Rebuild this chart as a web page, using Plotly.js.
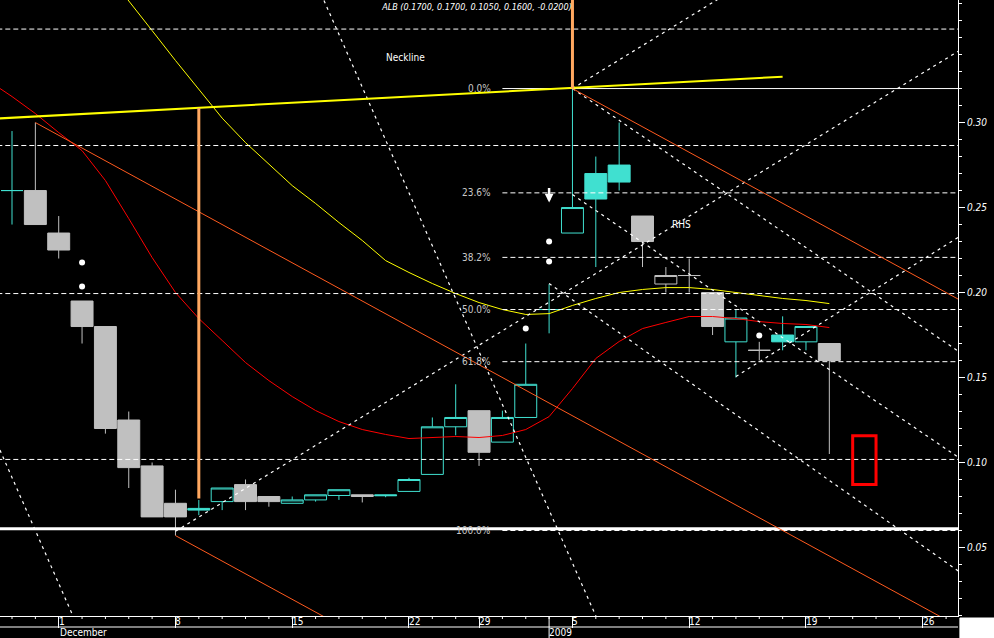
<!DOCTYPE html>
<html><head><meta charset="utf-8">
<script src="https://cdn.plot.ly/plotly-3.0.1.min.js"></script>
<style>html,body{margin:0;padding:0;background:#000;}#chart{width:994px;height:638px;}</style>
</head><body><div id="chart"></div>
<script>
// ---------- data ----------
const symbol = 'ALB';
const days = ['2008-11-26','2008-11-27','2008-11-28','2008-12-01','2008-12-02','2008-12-03','2008-12-04','2008-12-05',
  '2008-12-08','2008-12-09','2008-12-10','2008-12-11','2008-12-12','2008-12-15','2008-12-16','2008-12-17',
  '2008-12-18','2008-12-19','2008-12-22','2008-12-23','2008-12-24','2008-12-29','2008-12-30','2008-12-31',
  '2009-01-02','2009-01-05','2009-01-06','2009-01-07','2009-01-08','2009-01-09','2009-01-12','2009-01-13',
  '2009-01-14','2009-01-15','2009-01-16','2009-01-19','2009-01-20','2009-01-21','2009-01-22','2009-01-23',
  '2009-01-26','2009-01-27'];
const firstCandleDay = '2008-11-27';
const openP  = [0.26,0.26,0.235,0.195,0.18,0.125,0.098,0.076,0.073,0.077,0.087,0.080,0.076,0.078,0.0806,0.081,0.081,0.083,0.093,0.121,0.1305,0.112,0.1265,0.19,0.235,0.27,0.275,0.245,0.205,0.21,0.20,0.171,0.166,0.175,0.171,0.17];
const highP  = [0.295,0.30,0.245,0.195,0.18,0.13,0.10,0.084,0.078,0.085,0.090,0.080,0.080,0.081,0.084,0.081,0.081,0.091,0.1265,0.146,0.1305,0.1305,0.17,0.205,0.32,0.28,0.30,0.245,0.215,0.22,0.20,0.19,0.171,0.186,0.18,0.17];
const lowP   = [0.24,0.24,0.22,0.17,0.117,0.085,0.068,0.057,0.069,0.072,0.072,0.074,0.076,0.077,0.078,0.0765,0.0796,0.083,0.093,0.116,0.098,0.112,0.1265,0.176,0.235,0.215,0.26,0.215,0.20,0.20,0.175,0.15,0.16,0.166,0.166,0.105];
const closeP = [0.26,0.24,0.225,0.18,0.12,0.097,0.068,0.068,0.072,0.085,0.077,0.077,0.078,0.081,0.084,0.080,0.0805,0.090,0.121,0.1265,0.106,0.1265,0.146,0.19,0.25,0.255,0.265,0.23,0.21,0.21,0.18,0.185,0.166,0.171,0.18,0.16];
// moving averages start one session earlier (2008-11-26)
const maYellow = [0.478,0.46,0.442,0.4235,0.406,0.389,0.3718,0.3541,0.3365,0.3194,0.3026,0.2882,0.2753,0.2629,0.2524,0.2412,0.2306,0.2188,0.2118,0.2053,0.1994,0.1941,0.19,0.1871,0.1876,0.1924,0.1965,0.20,0.2018,0.2029,0.2029,0.2018,0.20,0.1982,0.1965,0.1953,0.1935];
const maRed = [0.3245,0.3153,0.3053,0.2941,0.2835,0.2659,0.2435,0.2206,0.20,0.1847,0.1718,0.1588,0.1482,0.1388,0.1306,0.1241,0.1194,0.1165,0.1141,0.1147,0.1153,0.1147,0.1159,0.1194,0.127,0.1435,0.1612,0.1712,0.1788,0.1824,0.1859,0.1859,0.1847,0.1829,0.1818,0.1812,0.1794];
const dotDays = ['2008-12-02','2008-12-02','2008-12-31','2009-01-02','2009-01-02','2009-01-15'];
const dotVals = [0.2176,0.2035,0.1788,0.230,0.2182,0.1747];
// y tick labels
const yTicks = [0.05,0.10,0.15,0.20,0.25,0.30];
// horizontal support / resistance levels
const hLevels = [0.355,0.2865,0.1994,0.1018];
const supportLevel = 0.061;
// fibonacci retracement
const fibHigh = 0.32, fibLow = 0.06, fibStartDay = '2008-12-30';
const fibRatios = [0, 0.236, 0.382, 0.5, 0.618, 1.0];
// drawing-tool lines: session offsets counted from 2008-11-27, and prices
const neckX = [-1, 33];
const neckY = [0.3021, 0.327];
const chanX0 = [1, 24, 7];
const chanY0 = [0.30, 0.32, 0.057];
const chanX1 = [41, 41, 41];
const chanY1 = [0.0, 0.1925, -0.198];
const fanX0 = [13.36, -1, 7, 24, 24, 24, 23, 31];
const fanY0 = [0.3718, 0.1224, 0.0595, 0.32, 0.32, 0.2576, 0.2053, 0.1506];
const fanX1 = [25.05, 3, 41, 31, 41, 41, 41, 41];
const fanY1 = [0.0082, -0.0024, 0.346, 0.379, 0.161, 0.0986, 0.0316, 0.2366];
const vertX = [8, 24];
const vertLo = [0.0788, 0.32];
const vertHi = [0.3086, 0.40];
const boxX = [36, 37];
const boxVal = [0.087, 0.1157];
const noteText = ['Neckline', 'RHS'];
const noteX = [15.93, 28.18];
const noteVal = [0.3382, 0.24];
const arrowDay = '2009-01-02', arrowVal = 0.2529;
const viewX = [-0.514, 40.51];
const yRange = [0.0097, 0.3721];

// ---------- styling ----------
const FONT = "'Liberation Sans Narrow','DejaVu Sans Condensed','Liberation Sans',Arial,sans-serif";
const CYAN = '#40E0D0', GRAY = '#C0C0C0';
const PH = 616; // plot height in px for paper offsets
const OFF = days.indexOf(firstCandleDay);
const candleDays = days.slice(OFF, OFF + closeP.length);

// split candles into styles
const groups = {cyanHollow:[], cyanFilled:[], grayHollow:[], grayFilled:[]};
for (let i = 0; i < closeP.length; i++) {
  const up = i === 0 ? true : closeP[i] > closeP[i-1];
  const filled = closeP[i] < openP[i];
  groups[(up ? 'cyan' : 'gray') + (filled ? 'Filled' : 'Hollow')].push(i);
}
function candle(idx, color, fill) {
  const st = {line:{color:color, width:1}, fillcolor:fill};
  return {type:'candlestick', x: idx.map(i=>candleDays[i]), open: idx.map(i=>openP[i]), high: idx.map(i=>highP[i]),
    low: idx.map(i=>lowP[i]), close: idx.map(i=>closeP[i]), increasing: st, decreasing: st,
    whiskerwidth: 0, hoverinfo:'skip', showlegend:false};
}
const traces = [
  {type:'scatter', x: days, y: days.map(()=>null), mode:'lines', hoverinfo:'skip', showlegend:false},
  candle(groups.cyanHollow, CYAN, '#000'),
  candle(groups.cyanFilled, CYAN, CYAN),
  candle(groups.grayHollow, GRAY, '#000'),
  candle(groups.grayFilled, GRAY, GRAY),
  {type:'scatter', mode:'lines', x: days.slice(0, maYellow.length), y: maYellow, line:{color:'#FFFF00', width:1}, hoverinfo:'skip', showlegend:false},
  {type:'scatter', mode:'lines', x: days.slice(0, maRed.length), y: maRed, line:{color:'#FF0000', width:1}, hoverinfo:'skip', showlegend:false},
  {type:'scatter', mode:'markers', x: dotDays, y: dotVals, marker:{color:'#fff', size:6}, hoverinfo:'skip', showlegend:false}
];

const shapes = [];
const annotations = [];
function seg(x0,y0,x1,y1,color,width,dash){
  shapes.push({type:'line', xref:'x', yref:'y', x0:x0+OFF, y0, x1:x1+OFF, y1, line:{color, width, dash: dash || 'solid'}});
}
const END = 42;
hLevels.forEach(v => seg(-2, v, END, v, '#fff', 1, '5px,3px'));
const fibStart = days.indexOf(fibStartDay) - OFF;
fibRatios.forEach(r => {
  const v = fibHigh - r * (fibHigh - fibLow);
  seg(fibStart, v, END, v, '#fff', 1, r === 0 ? 'solid' : '5px,3px');
  annotations.push({xref:'x', yref:'y', x: fibStart + OFF - 0.4, y: v, text: (r*100).toFixed(1) + '%',
    xanchor:'right', yanchor:'middle', showarrow:false, font:{family:FONT, size:10, color:'#C8C8C8'}});
});
seg(-2, supportLevel, END, supportLevel, '#fff', 3);
fanX0.forEach((x, i) => seg(x, fanY0[i], fanX1[i], fanY1[i], '#fff', 1.2, '3px,4px'));
chanX0.forEach((x, i) => seg(x, chanY0[i], chanX1[i], chanY1[i], '#FF5A1E', 1));
seg(neckX[0], neckY[0], neckX[1], neckY[1], '#FFFF00', 2);
vertX.forEach((x, i) => seg(x, vertLo[i], x, vertHi[i], '#FFA860', 3));
shapes.push({type:'rect', xref:'x', yref:'y', x0: boxX[0]+OFF, x1: boxX[1]+OFF, y0: boxVal[0], y1: boxVal[1], line:{color:'#FF0000', width:3}});

// x axis decorations
days.forEach((d, i) => shapes.push({type:'line', xref:'x', yref:'paper', x0:i, x1:i, y0:0, y1:-3/PH, line:{color:'#fff', width:1}}));
shapes.push({type:'line', xref:'paper', yref:'paper', x0:0, x1:1, y0:-11/PH, y1:-11/PH, line:{color:'#fff', width:1}});
const mondays = days.filter(d => new Date(d + 'T00:00:00Z').getUTCDay() === 1);
mondays.forEach(d => annotations.push({xref:'x', yref:'paper', x: days.indexOf(d), y: -5.5/PH, xshift: -2,
  text: String(parseInt(d.slice(8), 10)), xanchor:'left', yanchor:'middle', showarrow:false, font:{family:FONT, size:10, color:'#fff'}}));
const monthNames = ['January','February','March','April','May','June','July','August','September','October','November','December'];
days.forEach((d, i) => {
  if (i === 0) return;
  const prev = days[i-1];
  if (d.slice(0,4) !== prev.slice(0,4)) {
    shapes.push({type:'line', xref:'x', yref:'paper', x0:i, x1:i, y0:-22/PH, y1:0, line:{color:'#fff', width:1}});
    annotations.push({xref:'x', yref:'paper', x:i, y:-16.5/PH, xshift:-2, text:d.slice(0,4), xanchor:'left', yanchor:'middle', showarrow:false, font:{family:FONT, size:10, color:'#fff'}});
  } else if (d.slice(5,7) !== prev.slice(5,7)) {
    annotations.push({xref:'x', yref:'paper', x:i, y:-16.5/PH, xshift:-1, text:monthNames[parseInt(d.slice(5,7),10)-1], xanchor:'left', yanchor:'middle', showarrow:false, font:{family:FONT, size:10, color:'#fff'}});
  }
});
shapes.push({type:'rect', xref:'paper', yref:'paper', x0:1.002, x1:1.05, y0:-0.04, y1:-2/PH, fillcolor:'#ffffff', line:{color:'#ffffff', width:1}, layer:'above'});

noteText.forEach((t, i) => annotations.push({xref:'x', yref:'y', x: noteX[i]+OFF, y: noteVal[i], text: t, xanchor:'left', yanchor:'middle', showarrow:false, font:{family:FONT, size:10, color:'#fff'}}));
annotations.push({xref:'x', yref:'y', x: days.indexOf(arrowDay), y: arrowVal, ax: 0, ay: -16, text:'', showarrow:true,
  arrowhead:2, arrowsize:0.7, arrowwidth:2.5, arrowcolor:'#fff'});

const n = closeP.length - 1;
const f4 = v => v.toFixed(4);
const titleText = `${symbol} (${f4(openP[n])}, ${f4(highP[n])}, ${f4(lowP[n])}, ${f4(closeP[n])}, ${f4(closeP[n]-closeP[n-1])})`;

const layout = {
  width: 994, height: 638,
  paper_bgcolor: '#000', plot_bgcolor: '#000',
  margin: {l:0, r:36, t:0, b:22, pad:0},
  showlegend: false,
  boxmode: 'overlay', boxgap: 0.06, boxgroupgap: 0,
  font: {family: FONT, size: 10, color: '#fff'},
  title: {text: titleText, xref:'container', x: 477/994, xanchor:'center', yref:'container', y: 1 - 7/638, yanchor:'middle',
    font: {family: FONT, size: 9, color:'#fff', style:'italic'}},
  xaxis: {type:'category', categoryorder:'array', categoryarray: days, range:[viewX[0]+OFF, viewX[1]+OFF],
    showgrid:false, zeroline:false, showline:true, linecolor:'#fff', linewidth:1,
    ticks:'outside', ticklen:11, tickcolor:'#fff', tickwidth:1, tickmode:'array', tickvals: mondays,
    showticklabels:false, rangeslider:{visible:false}, fixedrange:true},
  yaxis: {side:'right', range:yRange, showgrid:false, zeroline:false, showline:true, linecolor:'#fff', linewidth:1,
    ticks:'outside', ticklen:6, tickcolor:'#fff', tickmode:'array', tickvals: yTicks, tickformat:'.2f',
    tickfont:{family:FONT, size:10, color:'#fff', style:'italic'},
    minor:{ticks:'outside', ticklen:3, tickcolor:'#fff', tickmode:'linear', tick0:0, dtick:0.01, showgrid:false}, fixedrange:true},
  shapes, annotations
};
Plotly.newPlot('chart', traces, layout, {staticPlot:true, displayModeBar:false});
</script>
</body></html>
